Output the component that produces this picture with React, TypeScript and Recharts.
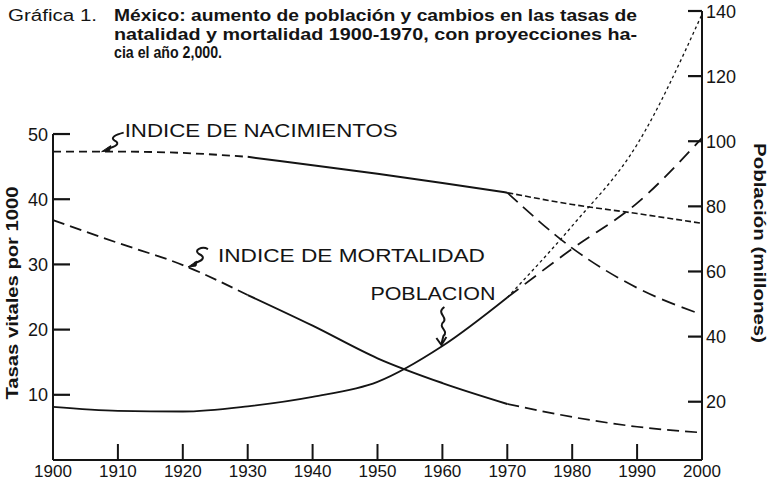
import React from 'react';
import { LineChart, Line, XAxis, YAxis, ReferenceLine, ReferenceDot } from 'recharts';

// años con lectura (décadas)
const years = [1900, 1910, 1920, 1930, 1940, 1950, 1960, 1970, 1980, 1990, 2000];

// tasas por 1000 (eje izquierdo), 1900-1970
const natalidadHist = [47.3, 47.3, 47.1, 46.5, 45.2, 43.9, 42.5, 41.0];
const mortalidadHist = [36.8, 33.3, 29.9, 25.3, 20.6, 15.6, 11.8, 8.6];
// proyecciones 1970-2000
const natalidadAlta = [41.0, 39.2, 37.8, 36.3];
const natalidadBaja = [41.0, 32.5, 26.4, 22.3];
const mortalidadProy = [8.6, 6.6, 5.1, 4.2];

// población en millones (eje derecho)
const poblacionHist = [18.4, 17.2, 17.0, 18.6, 21.5, 26.1, 37.1, 52.0];
const poblacionAlta = [52.0, 74.0, 99.0, 139.0];
const poblacionBaja = [52.0, 67.0, 81.0, 101.0];

const decadeTicks = [1900, 1910, 1920, 1930, 1940, 1950, 1960, 1970, 1980, 1990, 2000];
const tasaTicks = [10, 20, 30, 40, 50];
const poblacionTicks = [20, 40, 60, 80, 100, 120, 140];

const INK = '#141414';
const FONT = '"Liberation Sans", Arial, Helvetica, sans-serif';

const LAST_HIST = 7; // índice de 1970
const EARLY_END = 3; // índice de 1930: fin del tramo punteado inicial

const chartData = years.map((year, i) => {
  const hist = i <= LAST_HIST;
  const proy = i >= LAST_HIST;
  const pi = i - LAST_HIST;
  return {
    year,
    natTemprana: i <= EARLY_END ? natalidadHist[i] : null,
    natHist: i >= EARLY_END && hist ? natalidadHist[i] : null,
    natAlta: proy ? natalidadAlta[pi] : null,
    natBaja: proy ? natalidadBaja[pi] : null,
    morTemprana: i <= EARLY_END ? mortalidadHist[i] : null,
    morHist: i >= EARLY_END && hist ? mortalidadHist[i] : null,
    morProy: proy ? mortalidadProy[pi] : null,
    pobHist: hist ? poblacionHist[i] : null,
    pobAlta: proy ? poblacionAlta[pi] : null,
    pobBaja: proy ? poblacionBaja[pi] : null,
  };
});

const BottomTick = ({ x, y, payload }: any) => (
  <g>
    {payload.value > 1900 && payload.value < 2000 && (
      <line x1={x} x2={x} y1={y} y2={y - 16} stroke={INK} strokeWidth={2} />
    )}
    <text x={x} y={y + 17} textAnchor="middle" fontSize={17} fill={INK} fontFamily={FONT}>
      {payload.value}
    </text>
  </g>
);

const LeftTick = ({ x, y, payload }: any) => (
  <g>
    <line x1={x} x2={x + 17} y1={y} y2={y} stroke={INK} strokeWidth={2.2} />
    <text x={x - 5} y={y + 6.5} textAnchor="end" fontSize={18} fill={INK} fontFamily={FONT}>
      {payload.value}
    </text>
  </g>
);

const RightTick = ({ x, y, payload }: any) => (
  <g>
    <line x1={x - 14} x2={x} y1={y} y2={y} stroke={INK} strokeWidth={2.2} />
    <text x={x + 4} y={y + 6.5} textAnchor="start" fontSize={18} fill={INK} fontFamily={FONT}>
      {payload.value}
    </text>
  </g>
);

// flechas onduladas a mano con su rótulo
const NacimientosNote = ({ cx, cy }: any) => (
  <g>
    <path
      d={`M ${cx + 22} ${cy - 19} C ${cx + 14} ${cy - 17}, ${cx + 8} ${cy - 14}, ${cx + 13} ${cy - 11} C ${cx + 19} ${cy - 8}, ${cx + 14} ${cy - 5}, ${cx + 6} ${cy - 3}`}
      fill="none" stroke={INK} strokeWidth={2}
    />
    <path d={`M ${cx} ${cy} L ${cx + 9} ${cy - 6} L ${cx + 8} ${cy - 1} Z`} fill={INK} stroke={INK} strokeWidth={1} />
    <text x={cx + 23} y={cy - 15} fontSize={18} fill={INK} fontFamily={FONT} textLength={273} lengthAdjust="spacingAndGlyphs">
      INDICE DE NACIMIENTOS
    </text>
  </g>
);

const MortalidadNote = ({ cx, cy }: any) => (
  <g>
    <path
      d={`M ${cx + 20} ${cy - 18} C ${cx + 14} ${cy - 21}, ${cx + 5} ${cy - 17}, ${cx + 11} ${cy - 13} C ${cx + 18} ${cy - 10}, ${cx + 15} ${cy - 6}, ${cx + 6} ${cy - 4}`}
      fill="none" stroke={INK} strokeWidth={2}
    />
    <path d={`M ${cx} ${cy} L ${cx + 9} ${cy - 6} L ${cx + 8} ${cy - 1} Z`} fill={INK} stroke={INK} strokeWidth={1} />
    <text x={cx + 30} y={cy - 5} fontSize={18} fill={INK} fontFamily={FONT} textLength={267} lengthAdjust="spacingAndGlyphs">
      INDICE DE MORTALIDAD
    </text>
  </g>
);

const PoblacionNote = ({ cx, cy }: any) => (
  <g>
    <path
      d={`M ${cx + 2} ${cy - 39} C ${cx - 7} ${cy - 33}, ${cx + 6} ${cy - 29}, ${cx + 1} ${cy - 24} C ${cx - 5} ${cy - 19}, ${cx + 7} ${cy - 15}, ${cx + 1} ${cy - 10} L ${cx - 1} ${cy - 2}`}
      fill="none" stroke={INK} strokeWidth={2}
    />
    <path d={`M ${cx - 6} ${cy - 8} L ${cx - 1} ${cy - 1} L ${cx + 4} ${cy - 9}`} fill="none" stroke={INK} strokeWidth={2} />
    <text x={cx - 72} y={cy - 46} fontSize={18} fill={INK} fontFamily={FONT} textLength={125} lengthAdjust="spacingAndGlyphs">
      POBLACION
    </text>
  </g>
);

const seriesBase = {
  type: 'monotone' as const,
  dot: false,
  activeDot: false,
  isAnimationActive: false,
  stroke: INK,
};

export default function App() {
  return (
    <div style={{ position: 'absolute', left: 0, top: 0, width: 767, height: 491, background: '#fff' }}>
      <LineChart width={767} height={491} data={chartData} margin={{ top: 11, right: 0, bottom: 0, left: 0 }}>
        <XAxis
          dataKey="year"
          type="number"
          domain={[1900, 2000]}
          ticks={decadeTicks}
          interval={0}
          height={31}
          tickSize={0}
          tickMargin={0}
          tickLine={false}
          axisLine={{ stroke: INK, strokeWidth: 2 }}
          tick={BottomTick}
        />
        <YAxis
          yAxisId="tasas"
          orientation="left"
          width={53}
          domain={[0, 68.87]}
          ticks={tasaTicks}
          interval={0}
          allowDataOverflow
          tickSize={0}
          tickMargin={0}
          tickLine={false}
          axisLine={false}
          tick={LeftTick}
        />
        <YAxis
          yAxisId="poblacion"
          orientation="right"
          width={65}
          domain={[2.1, 140]}
          ticks={poblacionTicks}
          interval={0}
          allowDataOverflow
          tickSize={0}
          tickMargin={0}
          tickLine={false}
          axisLine={{ stroke: INK, strokeWidth: 2 }}
          tick={RightTick}
        />
        <ReferenceLine
          yAxisId="tasas"
          segment={[{ x: 1900, y: 0 }, { x: 1900, y: 50 }]}
          stroke={INK}
          strokeWidth={2}
        />

        <Line {...seriesBase} yAxisId="tasas" dataKey="natTemprana" strokeWidth={1.8} strokeDasharray="8 5" />
        <Line {...seriesBase} yAxisId="tasas" dataKey="natHist" strokeWidth={2} />
        <Line {...seriesBase} yAxisId="tasas" dataKey="natAlta" strokeWidth={1.6} strokeDasharray="6 3" />
        <Line {...seriesBase} yAxisId="tasas" dataKey="natBaja" strokeWidth={1.7} strokeDasharray="14 7" />

        <Line {...seriesBase} yAxisId="tasas" dataKey="morTemprana" strokeWidth={1.8} strokeDasharray="12 6" />
        <Line {...seriesBase} yAxisId="tasas" dataKey="morHist" strokeWidth={2} />
        <Line {...seriesBase} yAxisId="tasas" dataKey="morProy" strokeWidth={1.7} strokeDasharray="12 6" />

        <Line {...seriesBase} yAxisId="poblacion" dataKey="pobHist" strokeWidth={1.8} />
        <Line {...seriesBase} yAxisId="poblacion" dataKey="pobAlta" strokeWidth={1.3} strokeDasharray="3 3" />
        <Line {...seriesBase} yAxisId="poblacion" dataKey="pobBaja" strokeWidth={1.8} strokeDasharray="14 8" />

        <ReferenceDot yAxisId="tasas" x={1907.5} y={47.3} r={0} shape={NacimientosNote} />
        <ReferenceDot yAxisId="tasas" x={1920.8} y={29.6} r={0} shape={MortalidadNote} />
        <ReferenceDot yAxisId="poblacion" x={1960} y={37.1} r={0} shape={PoblacionNote} />
      </LineChart>

      <svg
        width={767}
        height={491}
        style={{ position: 'absolute', left: 0, top: 0, pointerEvents: 'none' }}
        fontFamily={FONT}
        fill={INK}
      >
        <text x={8} y={21} fontSize={16} textLength={89} lengthAdjust="spacingAndGlyphs">
          Gráfica 1.
        </text>
        <text x={114} y={21} fontSize={16} fontWeight="bold" textLength={523} lengthAdjust="spacingAndGlyphs">
          México: aumento de población y cambios en las tasas de
        </text>
        <text x={114} y={39.5} fontSize={16} fontWeight="bold" textLength={523} lengthAdjust="spacingAndGlyphs">
          natalidad y mortalidad 1900-1970, con proyecciones ha-
        </text>
        <text x={114} y={58} fontSize={16} fontWeight="bold" textLength={108} lengthAdjust="spacingAndGlyphs">
          cia el año 2,000.
        </text>
        <text
          x={18}
          y={293}
          fontSize={16}
          fontWeight="bold"
          textAnchor="middle"
          transform="rotate(-90, 18, 293)"
          textLength={213}
          lengthAdjust="spacingAndGlyphs"
        >
          Tasas vitales por 1000
        </text>
        <text
          x={754}
          y={243}
          fontSize={16}
          fontWeight="bold"
          textAnchor="middle"
          transform="rotate(90, 754, 243)"
          textLength={200}
          lengthAdjust="spacingAndGlyphs"
        >
          Población (millones)
        </text>
      </svg>
    </div>
  );
}
